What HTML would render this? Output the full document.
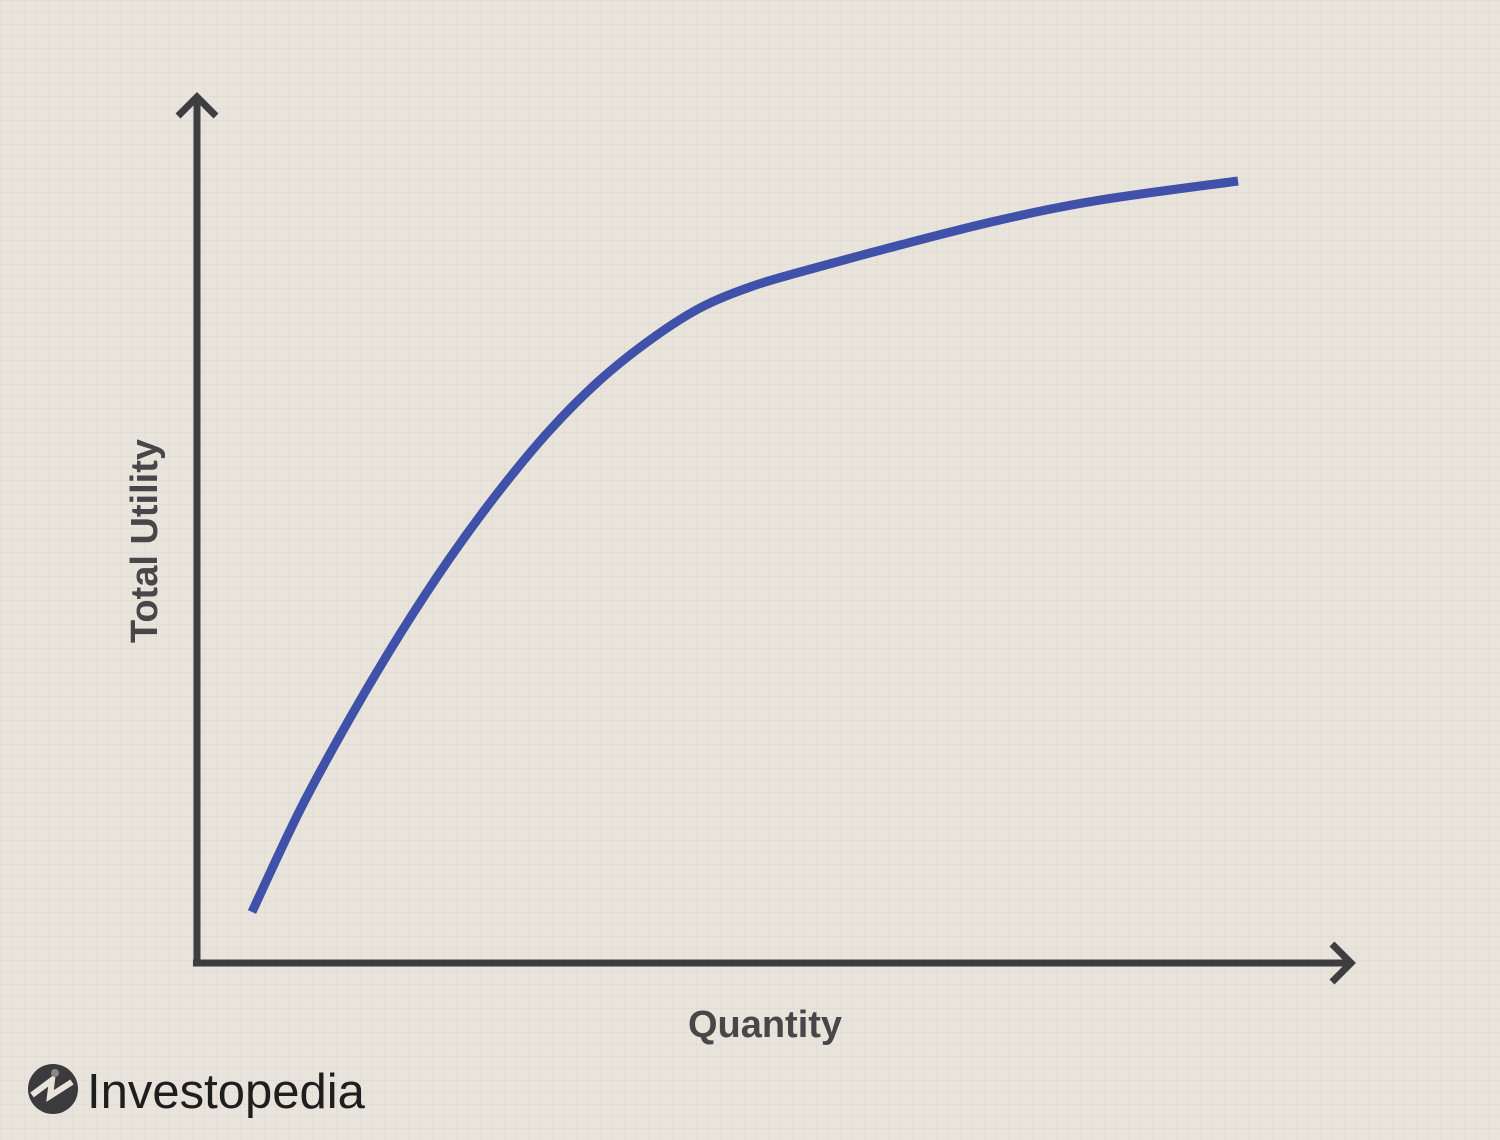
<!DOCTYPE html>
<html><head><meta charset="utf-8"><style>
html,body{margin:0;padding:0;}
body{width:1500px;height:1140px;overflow:hidden;background:#e9e4db;}
svg{display:block;}
</style></head><body>
<svg id="chart" width="1500" height="1140" xmlns="http://www.w3.org/2000/svg">
<defs>
<pattern id="grid" width="12" height="12" patternUnits="userSpaceOnUse">
<path d="M12 0 L0 0 0 12" fill="none" stroke="#ddd8cf" stroke-width="1"/>
</pattern>
</defs>
<rect width="1500" height="1140" fill="#e9e4db"/>
<rect width="1500" height="1140" fill="url(#grid)"/>
<g id="axes" stroke="#3e3e40" stroke-width="7" fill="none" stroke-linecap="butt">
<path d="M197 966 L197 99"/>
<path d="M178 116 L197 97 L216 116"/>
<path d="M193 963 L1350 963"/>
<path d="M1332 944 L1351 963 L1332 982"/>
</g>
<path id="curve" fill="none" stroke="#3f51a8" stroke-width="9"/>
<text x="157" y="541" transform="rotate(-90 157 541)" text-anchor="middle" font-family="Liberation Sans, sans-serif" font-weight="bold" font-size="38" fill="#47474a">Total Utility</text>
<text x="765" y="1037" text-anchor="middle" font-family="Liberation Sans, sans-serif" font-weight="bold" font-size="38" fill="#47474a">Quantity</text>
<g>
<circle cx="53" cy="1089" r="25" fill="#3b3b3d"/>
<path d="M32 1095 L52 1080 L50 1096 L72 1082" stroke="#e9e4db" stroke-width="6" fill="none"/>
<circle cx="55" cy="1073" r="4" fill="#888"/>
<text x="87" y="1108" font-family="Liberation Sans, sans-serif" font-size="49" fill="#1e1e1e">Investopedia</text>
</g>
</svg>
<script>
const quantity=[4.76,8.92,13.25,17.58,21.9,26.23,30.56,34.89,39.22,43.55,47.88,52.21,60.87,69.52,78.18,90.13];
const utility=[5.89,17.67,28.29,37.99,46.77,54.62,61.55,67.32,71.94,75.64,78.06,79.79,82.91,85.8,88.1,90.3];
const xs=v=>197+v*11.55;
const ys=v=>963-v*8.66;
const pts=quantity.map((q,i)=>[xs(q),ys(utility[i])]);
let d='M'+pts[0][0]+' '+pts[0][1];
for(let i=0;i<pts.length-1;i++){
 const p0=pts[i-1]||pts[i],p1=pts[i],p2=pts[i+1],p3=pts[i+2]||p2;
 const c1=[p1[0]+(p2[0]-p0[0])/6,p1[1]+(p2[1]-p0[1])/6];
 const c2=[p2[0]-(p3[0]-p1[0])/6,p2[1]-(p3[1]-p1[1])/6];
 d+=` C${c1[0]} ${c1[1]} ${c2[0]} ${c2[1]} ${p2[0]} ${p2[1]}`;
}
document.getElementById('curve').setAttribute('d',d);
</script>
</body></html>
